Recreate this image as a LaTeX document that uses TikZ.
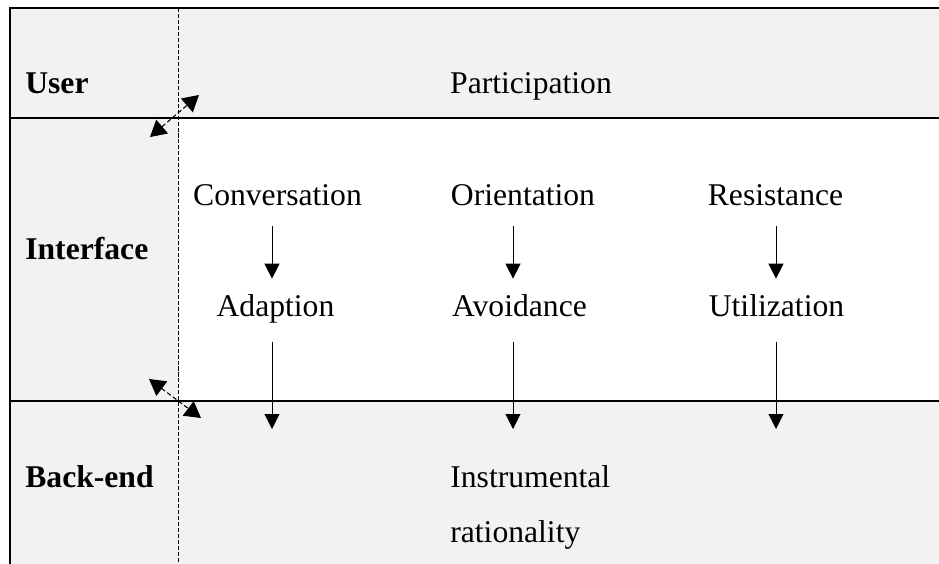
\documentclass[tikz,border=0pt]{standalone}
\usepackage{fontspec}
\setmainfont{Liberation Serif}
\usetikzlibrary{arrows.meta,positioning}
\definecolor{bandgray}{HTML}{F2F2F2}

\begin{document}
\begin{tikzpicture}[
    font=\fontsize{18}{22}\selectfont,
    rowlbl/.style={anchor=base west,inner sep=0pt,font=\fontsize{18}{22}\selectfont\bfseries},
    item/.style={anchor=base,inner sep=0pt,text height=4.5mm,text depth=1.3mm},
    arr/.style={-{Triangle[width=3mm,length=3mm]},line width=0.55pt},
    dbl/.style={{Triangle[width=3.6mm,length=3.2mm]}-{Triangle[width=3.6mm,length=3.2mm]},
      line width=0.6pt,dash pattern=on 2.5pt off 1.5pt},
    rule/.style={line width=0.9pt}
  ]
    \useasboundingbox (0,0) rectangle (18.78,-11.28);

    % Bands: grey frame, white interface area
    \fill[bandgray] (0.2,-0.16) rectangle (18.78,-11.28);
    \fill[white] (3.56,-2.36) rectangle (18.78,-8.02);

    % Frame lines
    \draw[rule] (18.78,-0.16) -- (0.2,-0.16) -- (0.2,-11.28);
    \draw[rule] (0.2,-2.36) -- (18.78,-2.36);
    \draw[rule] (0.2,-8.02) -- (18.78,-8.02);
    \draw[line width=0.45pt,dash pattern=on 2.3pt off 1.1pt] (3.56,-0.16) -- (3.56,-11.28);

    % Row labels
    \node[rowlbl] (user) at (0.5,-1.86) {User};
    \node[rowlbl] (iface) at (0.5,-5.18) {Interface};
    \node[rowlbl] (back) at (0.5,-9.74) {Back-end};

    % User row
    \node[item] (part) at (10.62,-1.86) {Participation};

    % Interface row
    \node[item] (conv) at (5.55,-4.10) {Conversation};
    \node[item] (orie) at (10.46,-4.10) {Orientation};
    \node[item] (resi) at (15.51,-4.10) {Resistance};
    \node[item] (adap) at (5.51,-6.32) {Adaption};
    \node[item] (avoi) at (10.39,-6.32) {Avoidance};
    \node[item] (util) at (15.53,-6.32) {Utilization};

    % Back-end row
    \node[anchor=north west,inner sep=0pt,align=left,font=\fontsize{18}{31.3}\selectfont]
      (instr) at (9.0,-9.31) {Instrumental\\rationality};

    % Arrow ends in the back-end row
    \coordinate (d1) at (5.44,-8.58);
    \coordinate (d2) at (10.26,-8.58);
    \coordinate (d3) at (15.52,-8.58);

    \draw[arr,shorten <=2.9mm,shorten >=2.9mm] (conv.south -| d1) -- (adap.north -| d1);
    \draw[arr,shorten <=2.9mm,shorten >=2.9mm] (orie.south -| d2) -- (avoi.north -| d2);
    \draw[arr,shorten <=2.9mm,shorten >=2.9mm] (resi.south -| d3) -- (util.north -| d3);

    \draw[arr,shorten <=3.9mm] (adap.south -| d1) -- (d1);
    \draw[arr,shorten <=3.9mm] (avoi.south -| d2) -- (d2);
    \draw[arr,shorten <=3.9mm] (util.south -| d3) -- (d3);

    % Dashed two-way arrows at the layer corners
    \coordinate (u1) at (3.0,-2.74);
    \coordinate (u2) at (3.98,-1.9);
    \coordinate (b1) at (2.98,-7.58);
    \coordinate (b2) at (4.02,-8.36);
    \draw[dbl] (u1) -- (u2);
    \draw[dbl] (b1) -- (b2);
  \end{tikzpicture}
\end{document}
